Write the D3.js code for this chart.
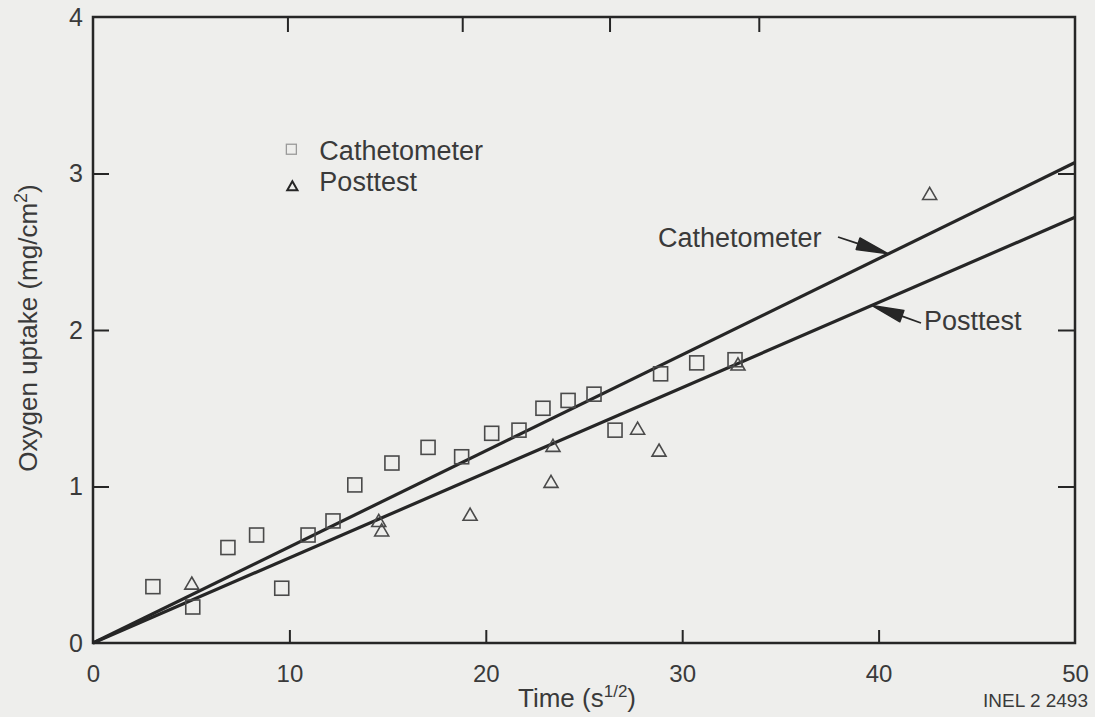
<!DOCTYPE html>
<html>
<head>
<meta charset="utf-8">
<script src="https://cdn.jsdelivr.net/npm/d3@7"></script>
<style>
  body { margin: 0; background: #eeeeec; }
  svg { display: block; }
</style>
</head>
<body>
<div id="chart"></div>
<script>

// data
var cathX = [3.05, 5.08, 6.87, 8.33, 9.61, 10.95, 12.22, 13.33, 15.22, 17.06, 18.77, 20.3, 21.69, 22.91, 24.19, 25.51, 26.58, 28.9, 30.74, 32.69];
var cathY = [0.36, 0.23, 0.61, 0.69, 0.35, 0.69, 0.78, 1.01, 1.15, 1.25, 1.19, 1.34, 1.36, 1.5, 1.55, 1.59, 1.36, 1.72, 1.79, 1.81];

var postX = [5.03, 14.55, 14.7, 19.2, 23.32, 23.42, 27.73, 28.82, 32.84, 42.6];
var postY = [0.37, 0.77, 0.71, 0.81, 1.02, 1.25, 1.36, 1.22, 1.77, 2.86];

// fitted lines through the origin, value at x = 50
var fitNames = ['Cathetometer', 'Posttest'];
var fitAt50 = [3.07, 2.72];

var xTicks = [0, 10, 20, 30, 40, 50];
var yTicks = [0, 1, 2, 3, 4];
var topTicks = [9.9, 18.8, 26.3, 33.9];

var ink = '#262626';
var textInk = '#3a3a3a';
var font = 'Liberation Sans, Arial, Helvetica, sans-serif';

// dimensions
var margin = {top: 17, right: 20, bottom: 74, left: 93};
var width = 1095 - margin.left - margin.right;
var height = 717 - margin.top - margin.bottom;

var x = d3.scaleLinear().domain([0, 50]).range([0, width]);
var y = d3.scaleLinear().domain([0, 4]).range([height, 0]);

var svg = d3.select('#chart').append('svg')
    .attr('width', 1095)
    .attr('height', 717)
  .append('g')
    .attr('transform', 'translate(' + margin.left + ',' + margin.top + ')');

// frame
svg.append('rect')
    .attr('x', 0).attr('y', 0)
    .attr('width', width).attr('height', height)
    .attr('fill', 'none')
    .attr('stroke', ink)
    .attr('stroke-width', 2.5);

// bottom axis: inward ticks, labels below
var xAxis = d3.axisBottom(x)
    .tickValues(xTicks)
    .tickFormat(d3.format('d'))
    .tickSizeInner(-13)
    .tickSizeOuter(0)
    .tickPadding(22);

var gx = svg.append('g')
    .attr('transform', 'translate(0,' + height + ')')
    .call(xAxis);
gx.select('.domain').remove();
gx.selectAll('.tick line')
    .attr('stroke', ink).attr('stroke-width', 2)
    .filter(function(d) { return d === 0 || d === 50; }).remove();
gx.selectAll('.tick text')
    .attr('font-family', font).attr('font-size', 24).attr('fill', textInk);

// left axis
var yAxis = d3.axisLeft(y)
    .tickValues(yTicks)
    .tickFormat(d3.format('d'))
    .tickSizeInner(-16)
    .tickSizeOuter(0)
    .tickPadding(10);

var gy = svg.append('g').call(yAxis);
gy.select('.domain').remove();
gy.selectAll('.tick line')
    .attr('stroke', ink).attr('stroke-width', 2)
    .filter(function(d) { return d === 0 || d === 4; }).remove();
gy.selectAll('.tick text')
    .attr('font-family', font).attr('font-size', 25).attr('fill', textInk);

// right axis, ticks only
var gr = svg.append('g')
    .attr('transform', 'translate(' + width + ',0)')
    .call(d3.axisRight(y).tickValues([1, 2, 3]).tickSizeInner(-17).tickSizeOuter(0).tickFormat(''));
gr.select('.domain').remove();
gr.selectAll('.tick line').attr('stroke', ink).attr('stroke-width', 2);

// top axis, ticks only
var gt = svg.append('g')
    .call(d3.axisTop(x).tickValues(topTicks).tickSizeInner(-15).tickSizeOuter(0).tickFormat(''));
gt.select('.domain').remove();
gt.selectAll('.tick line').attr('stroke', ink).attr('stroke-width', 2);

// fitted lines
svg.selectAll('line.fit')
    .data(fitAt50)
  .enter().append('line')
    .attr('class', 'fit')
    .attr('x1', x(0)).attr('y1', y(0))
    .attr('x2', x(50))
    .attr('y2', function(d) { return y(d); })
    .attr('stroke', ink)
    .attr('stroke-width', 3.2);

// cathetometer squares
var sq = 14;
svg.selectAll('rect.cath')
    .data(d3.range(cathX.length))
  .enter().append('rect')
    .attr('class', 'cath')
    .attr('x', function(i) { return x(cathX[i]) - sq / 2; })
    .attr('y', function(i) { return y(cathY[i]) - sq / 2; })
    .attr('width', sq).attr('height', sq)
    .attr('fill', 'none')
    .attr('stroke', '#4a4a4a')
    .attr('stroke-width', 1.6);

// posttest triangles
var tri = d3.symbol().type(d3.symbolTriangle).size(85);
svg.selectAll('path.post')
    .data(d3.range(postX.length))
  .enter().append('path')
    .attr('class', 'post')
    .attr('d', tri)
    .attr('transform', function(i) {
      return 'translate(' + x(postX[i]) + ',' + y(postY[i]) + ')';
    })
    .attr('fill', 'none')
    .attr('stroke', '#4a4a4a')
    .attr('stroke-width', 1.6);

// legend
var legend = svg.append('g')
    .attr('transform', 'translate(' + x(10.1) + ',' + y(3.155) + ')');
legend.append('rect')
    .attr('x', -5).attr('y', -5)
    .attr('width', 10).attr('height', 10)
    .attr('fill', 'none').attr('stroke', '#9a9a9a').attr('stroke-width', 1.3);
legend.append('path')
    .attr('d', d3.symbol().type(d3.symbolTriangle).size(45))
    .attr('transform', 'translate(1,38)')
    .attr('fill', 'none').attr('stroke', ink).attr('stroke-width', 2);
legend.selectAll('text')
    .data(fitNames)
  .enter().append('text')
    .attr('x', 28)
    .attr('y', function(d, i) { return 11 + i * 31; })
    .text(function(d) { return d; })
    .attr('font-family', font)
    .attr('font-size', 27)
    .attr('fill', textInk);

// line labels with arrows
function onLine(xv, k) { return [x(xv), y(xv * fitAt50[k] / 50)]; }

var labels = [
  {k: 0, text: 'Cathetometer', tx: 658, ty: 247, tail: [838, 237], at: 40.5},
  {k: 1, text: 'Posttest', tx: 924, ty: 330, tail: [921, 323], at: 39.65}
];

labels.forEach(function(l) {
  var head = onLine(l.at, l.k);
  var hx = head[0], hy = head[1];
  var tx = l.tail[0] - margin.left, ty = l.tail[1] - margin.top;
  var dx = hx - tx, dy = hy - ty;
  var len = Math.sqrt(dx * dx + dy * dy);
  var ux = dx / len, uy = dy / len;
  var bx = hx - ux * 32, by = hy - uy * 32;
  svg.append('line')
      .attr('x1', tx).attr('y1', ty)
      .attr('x2', bx).attr('y2', by)
      .attr('stroke', ink).attr('stroke-width', 1.8);
  svg.append('path')
      .attr('d', 'M' + (bx - uy * 6) + ',' + (by + ux * 6) +
                 'L' + hx + ',' + hy +
                 'L' + (bx + uy * 6) + ',' + (by - ux * 6) + 'Z')
      .attr('fill', ink)
      .attr('stroke', ink)
      .attr('stroke-linejoin', 'round')
      .attr('stroke-width', 1.5);
  svg.append('text')
      .attr('x', l.tx - margin.left)
      .attr('y', l.ty - margin.top)
      .text(l.text)
      .attr('font-family', font)
      .attr('font-size', 27)
      .attr('fill', textInk);
});

// axis titles
var xt = svg.append('text')
    .attr('x', 518 - margin.left)
    .attr('y', 707 - margin.top)
    .attr('font-family', font)
    .attr('font-size', 26)
    .attr('fill', textInk);
xt.append('tspan').text('Time (s');
xt.append('tspan').attr('dy', -10).attr('font-size', 17).text('1/2');
xt.append('tspan').attr('dy', 10).text(')');

var yt = svg.append('text')
    .attr('transform', 'translate(' + (37 - margin.left) + ',' + (328 - margin.top) + ') rotate(-90)')
    .attr('text-anchor', 'middle')
    .attr('font-family', font)
    .attr('font-size', 26)
    .attr('fill', textInk);
yt.append('tspan').text('Oxygen uptake (mg/cm');
yt.append('tspan').attr('dy', -10).attr('font-size', 18).text('2');
yt.append('tspan').attr('dy', 10).text(')');

// figure id
svg.append('text')
    .attr('x', 1088 - margin.left)
    .attr('y', 707 - margin.top)
    .attr('text-anchor', 'end')
    .attr('font-family', font)
    .attr('font-size', 19)
    .attr('fill', textInk)
    .text('INEL 2 2493');

</script>
</body>
</html>
